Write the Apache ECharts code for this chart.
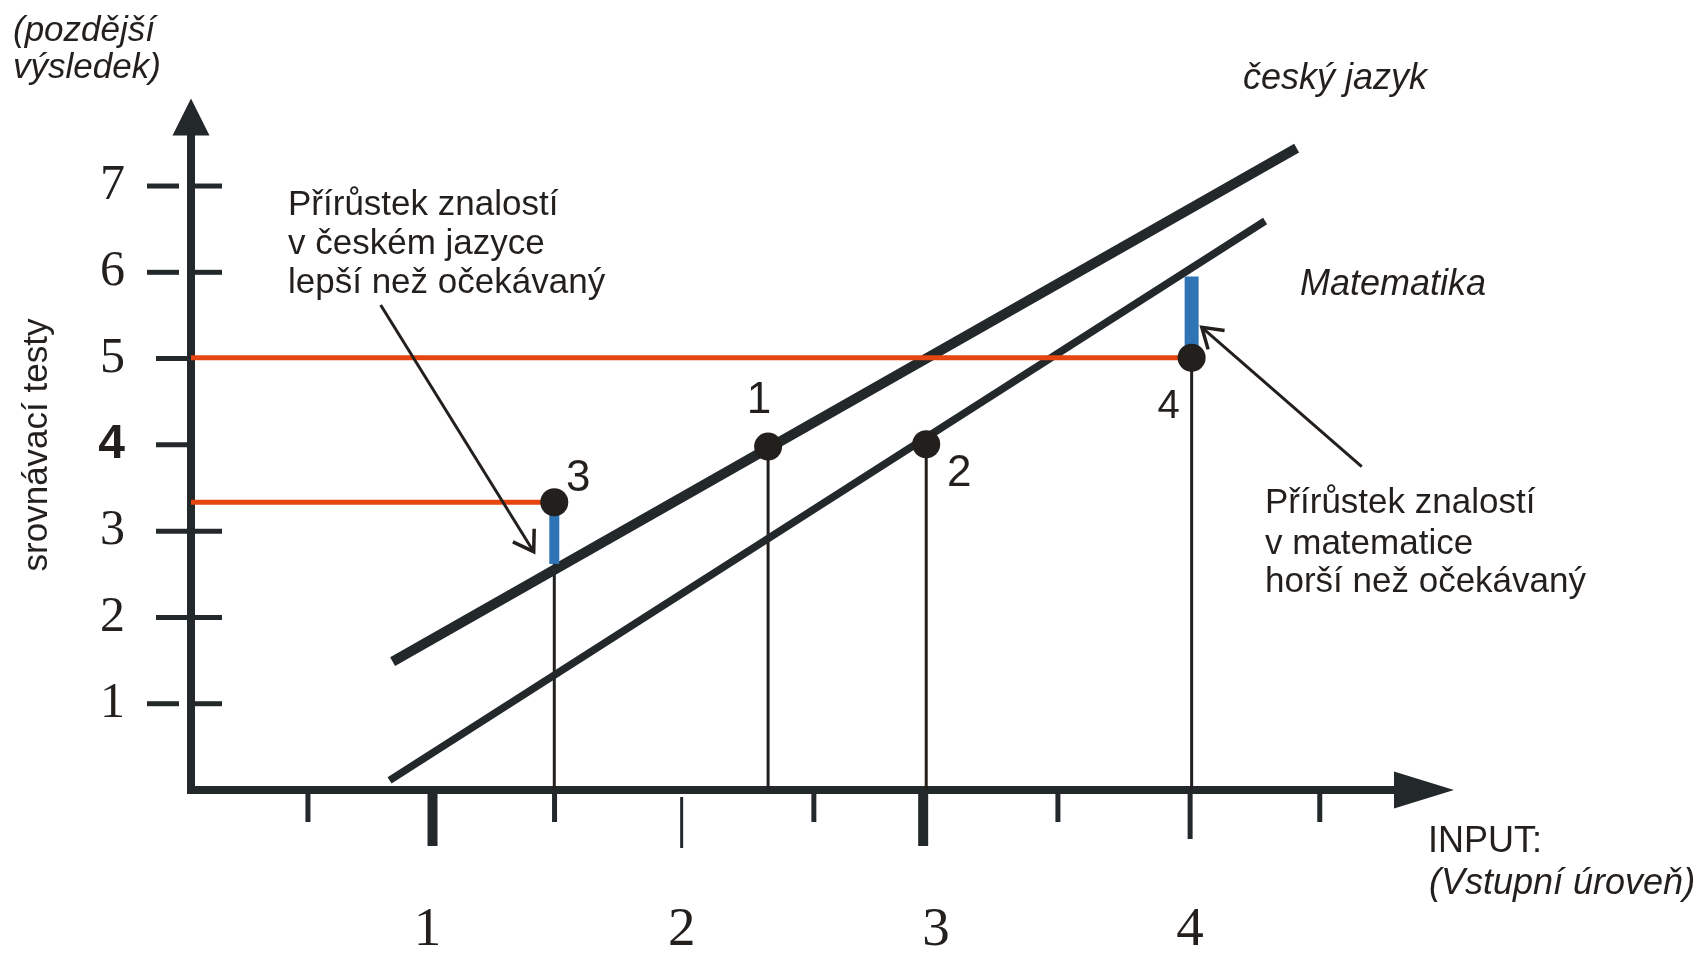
<!DOCTYPE html>
<html><head><meta charset="utf-8">
<script src="https://cdn.jsdelivr.net/npm/echarts@6/dist/echarts.min.js"></script>
<style>html,body{margin:0;padding:0;background:#fff}#c{width:1698px;height:953px}</style>
</head><body><div id="c"></div>
<script>
// ---- data ----
const xTickLabels = [1, 2, 3, 4];
const yTickLabels = [1, 2, 3, 4, 5, 6, 7];
const xTickMarks = [0.53, 1.02, 1.5, 2.0, 2.52, 2.95, 3.48, 4.0, 4.51];
const czechLine = [[0.863, 1.488], [4.419, 7.44]];   // český jazyk
const mathLine = [[0.851, 0.111], [4.295, 6.595]];   // Matematika
const pointNames = ['1', '2', '3', '4'];
const pointX = [2.34, 2.962, 1.499, 4.006];
const pointY = [3.98, 4.007, 3.335, 5.01];
const gainPointIdx = [2, 3];          // points 3 and 4
const gainEnds = [2.62, 5.95];        // where the blue gain bar reaches the line
const arrowFrom = [[0.816, 5.621], [4.675, 3.747]];
const arrowTo = [[1.418, 2.762], [4.046, 5.363]];

// ---- layout / style ----
const X_MIN = 0.07, X_MAX = 4.92, Y_MIN = 0, Y_MAX = 7.8;
const INK = '#23292b', DOT = '#231f1c', TXT = '#231f1c';
const ORANGE = '#e5450f', BLUE = '#2f74b5';
const SANS = '"Liberation Sans", Arial, sans-serif';
const SERIF = '"Liberation Serif", "Times New Roman", serif';
const labelOffsets = [[-9, -46], [33, 30], [24, -23], [-23, 49]];
const labelSizes = [44, 44, 44, 40];
const blueWidths = [10, 14];

function segRender(widthFn, colorFn) {
  return function (params, api) {
    const p1 = api.coord([api.value(0), api.value(1)]);
    const p2 = api.coord([api.value(2), api.value(3)]);
    return { type: 'line', shape: { x1: p1[0], y1: p1[1], x2: p2[0], y2: p2[1] },
      style: { stroke: colorFn(params.dataIndex), lineWidth: widthFn(params.dataIndex), lineCap: 'butt' } };
  };
}

const orangeData = gainPointIdx.map(i => [X_MIN, pointY[i], pointX[i], pointY[i]]);
const blueData = gainPointIdx.map((i, k) => [pointX[i], pointY[i], pointX[i], gainEnds[k]]);
const dropData = pointX.map((x, i) => [x, pointY[i], x, 0]);
const arrowData = arrowFrom.map((f, i) => [f[0], f[1], arrowTo[i][0], arrowTo[i][1]]);

const option = {
  animation: false,
  backgroundColor: '#ffffff',
  grid: { left: 191, right: 1698 - 1424, top: 117, bottom: 163, containLabel: false, outerBoundsMode: 'none' },
  xAxis: {
    type: 'value', min: X_MIN, max: X_MAX,
    splitLine: { show: false }, axisTick: { show: false },
    axisLine: { show: true, onZero: false, symbol: ['none', 'triangle'], symbolSize: [37, 60],
      lineStyle: { color: INK, width: 8, cap: 'square' } },
    axisLabel: { customValues: xTickLabels, margin: 113, fontFamily: SERIF, fontSize: 55, color: TXT,
      formatter: v => String(v) }
  },
  yAxis: {
    type: 'value', min: Y_MIN, max: Y_MAX,
    splitLine: { show: false }, axisTick: { show: false },
    axisLine: { show: true, onZero: false, symbol: ['none', 'triangle'], symbolSize: [37, 37],
      lineStyle: { color: INK, width: 8, cap: 'square' } },
    axisLabel: { customValues: yTickLabels, margin: 66,
      formatter: v => v === 4 ? '{b|4}' : '{s|' + v + '}',
      rich: { s: { fontFamily: SERIF, fontSize: 50, color: TXT },
              b: { fontFamily: SANS, fontWeight: 'bold', fontSize: 48, color: TXT } } }
  },
  series: [
    { type: 'line', name: 'český jazyk', data: czechLine, symbol: 'none', z: 3,
      lineStyle: { color: INK, width: 10, cap: 'butt' } },
    { type: 'line', name: 'Matematika', data: mathLine, symbol: 'none', z: 3,
      lineStyle: { color: INK, width: 7.5, cap: 'butt' } },
    { type: 'custom', name: 'drop', data: dropData, encode: { x: [0, 2], y: [1, 3] }, clip: false, z: 2,
      renderItem: segRender(() => 3, () => DOT) },
    { type: 'custom', name: 'orange', data: orangeData, encode: { x: [0, 2], y: [1, 3] }, clip: false, z: 4,
      renderItem: segRender(() => 5, () => ORANGE) },
    { type: 'custom', name: 'blue', data: blueData, encode: { x: [0, 2], y: [1, 3] }, clip: false, z: 4,
      renderItem: segRender(i => blueWidths[i], () => BLUE) },
    { type: 'custom', name: 'xticks', data: xTickMarks.map(v => [v, 0]), encode: { x: 0, y: 1 }, clip: false, z: 2,
      renderItem: function (params, api) {
        const v = api.value(0);
        const p = api.coord([v, 0]);
        const r = Math.round(v);
        let w = 5, top = 4, len = 32;
        if (Math.abs(v - r) < 0.1) {
          if (r % 2 === 1) { w = 10; len = 56; } else { w = r === 2 ? 3 : 5; len = r === 2 ? 58 : 49; top = r === 2 ? 7 : 4; }
        }
        return { type: 'line', shape: { x1: p[0], y1: p[1] + top, x2: p[0], y2: p[1] + len },
          style: { stroke: INK, lineWidth: w } };
      } },
    { type: 'custom', name: 'yticks', data: yTickLabels.map(v => [X_MIN, v]), encode: { x: 0, y: 1 }, clip: false, z: 2,
      renderItem: function (params, api) {
        const v = api.value(1);
        const p = api.coord([X_MIN, v]);
        const segs = (v === 1 || v === 6 || v === 7) ? [[-44, -12], [4, 31]]
          : (v === 2 || v === 3) ? [[-35, 31]] : [[-35, 0]];
        return { type: 'group', children: segs.map(s => ({ type: 'line',
          shape: { x1: p[0] + s[0], y1: p[1], x2: p[0] + s[1], y2: p[1] },
          style: { stroke: INK, lineWidth: 5 } })) };
      } },
    { type: 'custom', name: 'arrows', data: arrowData, encode: { x: [0, 2], y: [1, 3] }, clip: false, z: 6,
      renderItem: function (params, api) {
        const p1 = api.coord([api.value(0), api.value(1)]);
        const p2 = api.coord([api.value(2), api.value(3)]);
        const a = Math.atan2(p1[1] - p2[1], p1[0] - p2[0]);
        const L = 23, h = 33 * Math.PI / 180;
        const arm1 = [p2[0] + L * Math.cos(a + h), p2[1] + L * Math.sin(a + h)];
        const arm2 = [p2[0] + L * Math.cos(a - h), p2[1] + L * Math.sin(a - h)];
        return { type: 'group', children: [
          { type: 'line', shape: { x1: p1[0], y1: p1[1], x2: p2[0], y2: p2[1] }, style: { stroke: DOT, lineWidth: 3 } },
          { type: 'polyline', shape: { points: [arm1, p2, arm2] }, style: { stroke: DOT, lineWidth: 3.5, fill: null, lineJoin: 'miter' } }
        ] };
      } },
    { type: 'scatter', name: 'points', z: 7, symbol: 'circle', symbolSize: 28,
      itemStyle: { color: DOT, opacity: 1 },
      data: pointX.map((x, i) => ({ value: [x, pointY[i]], name: pointNames[i],
        label: { show: true, position: 'inside', offset: labelOffsets[i], formatter: pointNames[i],
          fontFamily: SANS, fontSize: labelSizes[i], color: TXT } })) }
  ],
  graphic: [
    ...[['(pozdější', 13, 31.5], ['výsledek)', 13, 68]].map(t => ({ type: 'text', x: t[1], y: t[2],
      style: { text: t[0], fontFamily: SANS, fontStyle: 'italic', fontSize: 35, fill: TXT, align: 'left', verticalAlign: 'middle' } })),
    { type: 'text', x: 1243, y: 78.5, style: { text: 'český jazyk', fontFamily: SANS, fontStyle: 'italic', fontSize: 36, fill: TXT, align: 'left', verticalAlign: 'middle' } },
    { type: 'text', x: 1300, y: 284.5, style: { text: 'Matematika', fontFamily: SANS, fontStyle: 'italic', fontSize: 36, fill: TXT, align: 'left', verticalAlign: 'middle' } },
    ...[['Přírůstek znalostí', 205], ['v českém jazyce', 244.5], ['lepší než očekávaný', 283]].map(t => ({ type: 'text', x: 288, y: t[1],
      style: { text: t[0], fontFamily: SANS, fontSize: 35, fill: TXT, align: 'left', verticalAlign: 'middle' } })),
    ...[['Přírůstek znalostí', 503], ['v matematice', 544.5], ['horší než očekávaný', 582.5]].map(t => ({ type: 'text', x: 1265, y: t[1],
      style: { text: t[0], fontFamily: SANS, fontSize: 35, fill: TXT, align: 'left', verticalAlign: 'middle' } })),
    { type: 'text', x: 1428, y: 842.5, style: { text: 'INPUT:', fontFamily: SANS, fontSize: 36, fill: TXT, align: 'left', verticalAlign: 'middle' } },
    { type: 'text', x: 1429, y: 884, style: { text: '(Vstupní úroveň)', fontFamily: SANS, fontStyle: 'italic', fontSize: 36, fill: TXT, align: 'left', verticalAlign: 'middle' } },
    { type: 'text', x: 37, y: 445, rotation: Math.PI / 2, style: { text: 'srovnávací testy', fontFamily: SANS, fontSize: 35, fill: TXT, align: 'center', verticalAlign: 'middle' } }
  ]
};
const chart = echarts.init(document.getElementById('c'), null, { renderer: 'canvas' });
chart.setOption(option);
</script></body></html>
